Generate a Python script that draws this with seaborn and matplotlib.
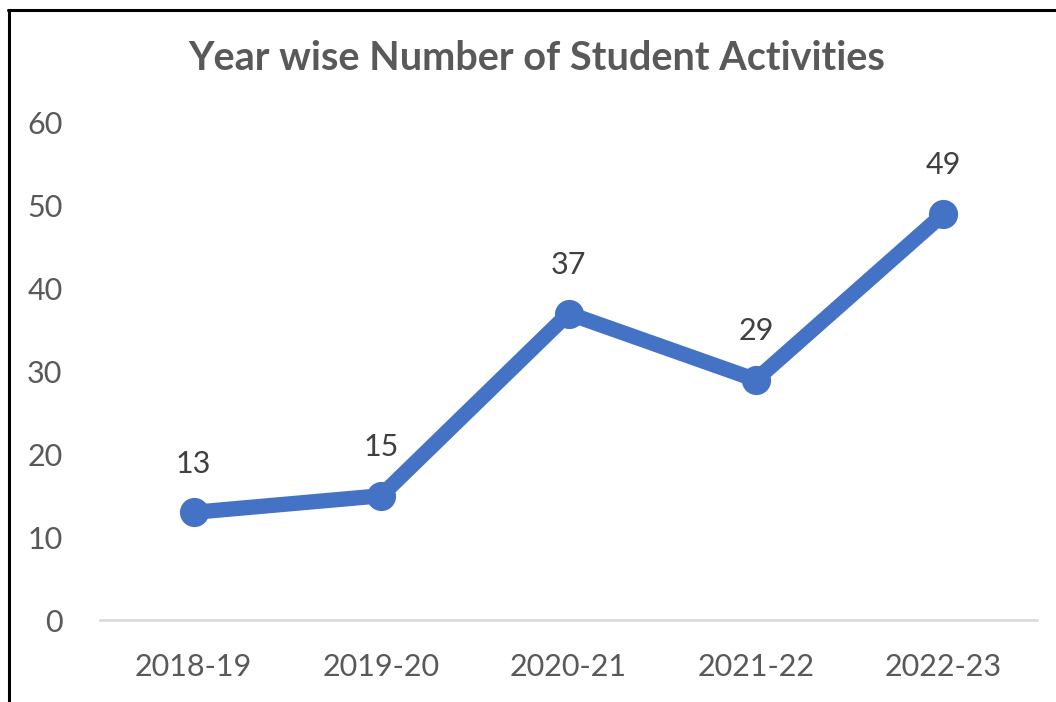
import matplotlib
matplotlib.use("Agg")
import matplotlib.pyplot as plt
from matplotlib.lines import Line2D
import seaborn as sns
import pandas as pd

years = ["2018-19", "2019-20", "2020-21", "2021-22", "2022-23"]
activities = [13, 15, 37, 29, 49]
y_ticks = [0, 10, 20, 30, 40, 50, 60]

sns.set_theme(style="white")
plt.rcParams["font.family"] = ["Lato", "DejaVu Sans"]

W, H = 1056, 702
fig = plt.figure(figsize=(W / 100, H / 100), dpi=100)
ax = fig.add_axes([100 / W, 82 / H, (1037 - 100) / W, (620 - 123) / H])

df = pd.DataFrame({"Year": years, "Activities": activities})
df["pos"] = range(len(years))

sns.lineplot(data=df, x="pos", y="Activities", ax=ax, color="#4472C4",
             linewidth=11, marker="o", markersize=21, markeredgewidth=0,
             solid_capstyle="round", solid_joinstyle="round")

for x, v in zip(df["pos"], df["Activities"]):
    ax.annotate(str(v), (x, v), xytext=(0, 25), textcoords="offset points",
                ha="center", va="bottom", fontsize=22, color="#404040")

ax.set_xlim(-0.5, len(years) - 0.5)
ax.set_ylim(y_ticks[0], y_ticks[-1])
ax.set_xticks(range(len(years)))
ax.set_xticklabels(years)
ax.set_yticks(y_ticks)
ax.tick_params(axis="both", length=0, labelsize=22, labelcolor="#595959")
ax.tick_params(axis="y", pad=27)
ax.tick_params(axis="x", pad=24)
ax.set_xlabel("")
ax.set_ylabel("")
for side in ["top", "right", "left"]:
    ax.spines[side].set_visible(False)
ax.spines["bottom"].set_color("#D9D9D9")
ax.spines["bottom"].set_linewidth(1.8)
ax.grid(False)

fig.text(537 / W, 1 - 59 / H, "Year wise Number of Student Activities",
         ha="center", va="center", fontsize=28.5, fontweight="bold",
         color="#595959")

# frame around the chart area
fig.add_artist(Line2D([9 / W, 9 / W], [0, 1 - 10 / H], transform=fig.transFigure,
                      color="black", linewidth=2.2))
fig.add_artist(Line2D([8 / W, 1], [1 - 10 / H, 1 - 10 / H], transform=fig.transFigure,
                      color="black", linewidth=2.2))

fig.savefig("out.png", dpi=100, facecolor="white")
